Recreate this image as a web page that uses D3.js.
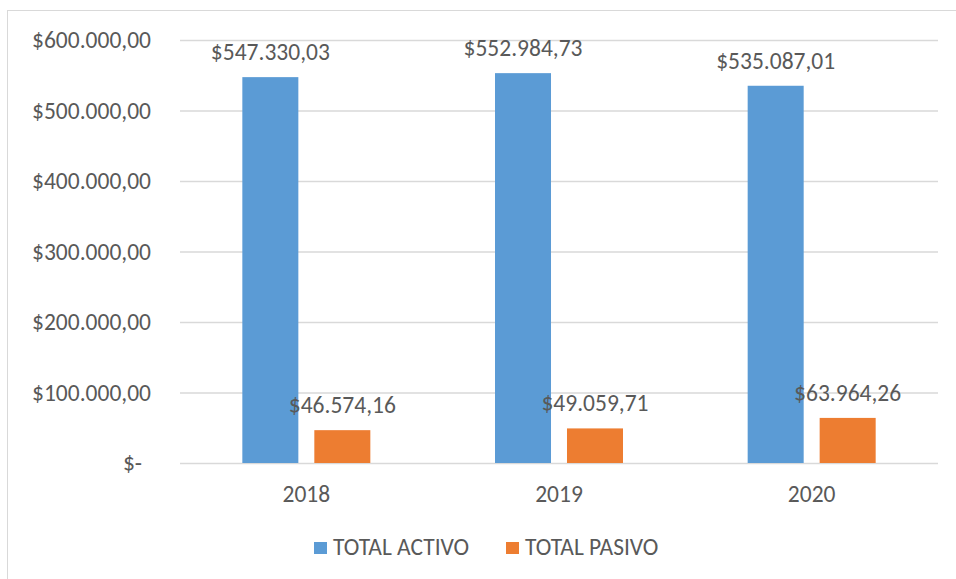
<!DOCTYPE html>
<html>
<head>
<meta charset="utf-8">
<script src="https://cdn.jsdelivr.net/npm/d3@7"></script>
<style>
  body { margin: 0; background: #fff; }
  text { font-family: Calibri, Carlito, Lato, sans-serif; fill: #595959; }
</style>
</head>
<body>
<div id="chart"></div>
<script>
// Data
const years = ["2018", "2019", "2020"];
const series = ["TOTAL ACTIVO", "TOTAL PASIVO"];
const activo = [547330.03, 552984.73, 535087.01];
const pasivo = [46574.16, 49059.71, 63964.26];
const yTicks = [0, 100000, 200000, 300000, 400000, 500000, 600000];
const colors = ["#5B9BD5", "#ED7D31"];

const W = 956, H = 579;
const plot = { left: 180, right: 938, top: 40, bottom: 463 };
const fontSize = "23.5px";

const svg = d3.select("#chart")
    .append("svg")
    .attr("width", W)
    .attr("height", H);

// chart frame
svg.append("rect")
    .attr("x", 7.5).attr("y", 10.5)
    .attr("width", W + 20).attr("height", H + 20)
    .attr("fill", "none")
    .attr("stroke", "#D9D9D9");

// number format like "$600.000,00"
const locale = d3.formatLocale({ decimal: ",", thousands: ".", grouping: [3], currency: ["$", ""] });
const money = locale.format("$,.2f");

// Scales
const x = d3.scaleBand().domain(years).range([plot.left, plot.right]);
const xSub = d3.scaleBand().domain(series)
    .range([x.bandwidth() / 2 - 64, x.bandwidth() / 2 + 64])
    .paddingInner(0.222);
const y = d3.scaleLinear().domain([0, 600000]).range([plot.bottom, plot.top]);

// Y axis + gridlines
const yAxis = svg.append("g")
    .attr("transform", `translate(${plot.left},0)`)
    .call(d3.axisLeft(y)
        .tickValues(yTicks)
        .tickSize(-(plot.right - plot.left))
        .tickPadding(29)
        .tickFormat(d => d === 0 ? "$-" : money(d)));
yAxis.select(".domain").remove();
yAxis.selectAll("line").attr("stroke", "#D9D9D9").attr("stroke-width", 1.3);
yAxis.selectAll("text")
    .style("font-size", fontSize)
    .attr("dx", d => d === 0 ? -9 : 0);

// X axis labels
const xAxis = svg.append("g")
    .attr("transform", `translate(0,${plot.bottom})`)
    .call(d3.axisBottom(x).tickSize(0).tickPadding(22));
xAxis.select(".domain").remove();
xAxis.selectAll("text").style("font-size", fontSize);

// Bars
const rows = years.map((yr, i) => ({ year: yr, values: [activo[i], pasivo[i]] }));
const groups = svg.selectAll(".year")
    .data(rows)
    .join("g")
    .attr("class", "year")
    .attr("transform", d => `translate(${x(d.year)},0)`);

groups.selectAll("rect")
    .data(d => d.values.map((v, j) => ({ key: series[j], value: v, j })))
    .join("rect")
    .attr("x", d => xSub(d.key))
    .attr("y", d => y(d.value))
    .attr("width", xSub.bandwidth())
    .attr("height", d => y(0) - y(d.value))
    .attr("fill", d => colors[d.j]);

groups.selectAll(".lbl")
    .data(d => d.values.map((v, j) => ({ key: series[j], value: v })))
    .join("text")
    .attr("class", "lbl")
    .attr("x", d => xSub(d.key) + xSub.bandwidth() / 2)
    .attr("y", d => y(d.value) - 17)
    .attr("text-anchor", "middle")
    .style("font-size", fontSize)
    .text(d => money(d.value));

// Legend
const legendX = [314, 506];
const legend = svg.selectAll(".legend")
    .data(series)
    .join("g")
    .attr("class", "legend")
    .attr("transform", (d, i) => `translate(${legendX[i]},542)`);
legend.append("rect")
    .attr("width", 13).attr("height", 12)
    .attr("fill", (d, i) => colors[i]);
legend.append("text")
    .attr("x", 19).attr("y", 13)
    .style("font-size", fontSize)
    .text(d => d);
</script>
</body>
</html>
